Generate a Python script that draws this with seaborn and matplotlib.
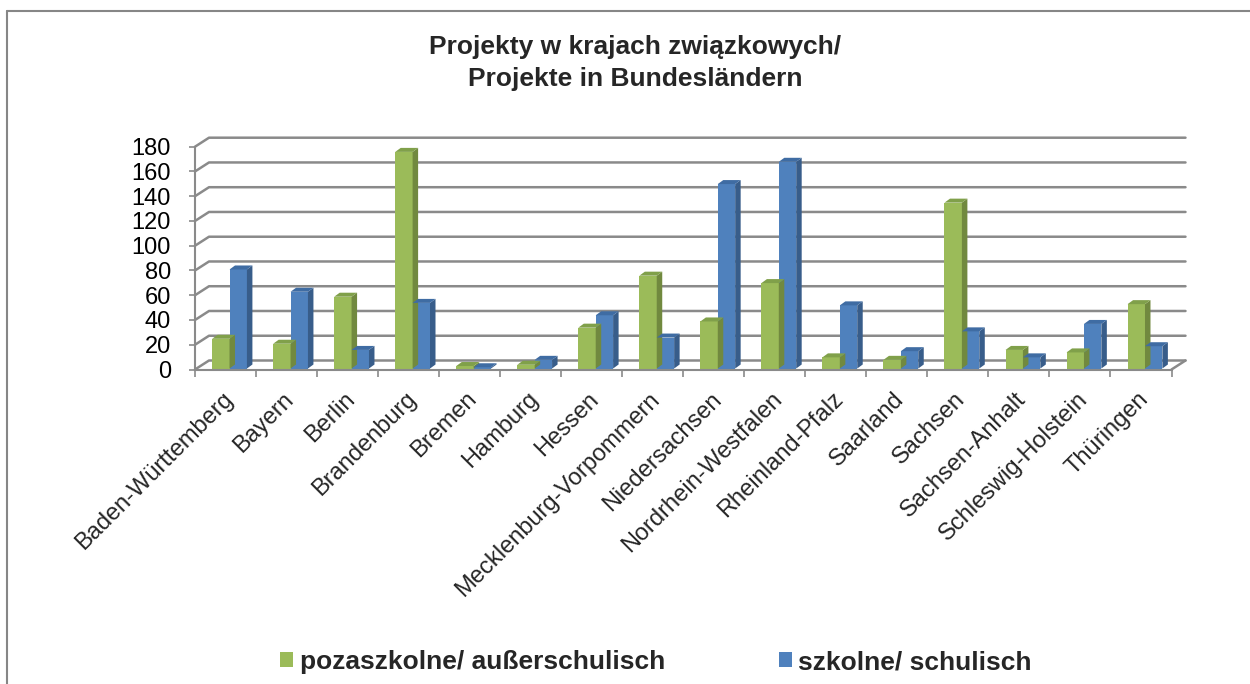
import numpy as np
import pandas as pd
import matplotlib
matplotlib.use("Agg")
import matplotlib.pyplot as plt
import seaborn as sns
from matplotlib.patches import Polygon, Patch
from matplotlib.lines import Line2D
from matplotlib.transforms import IdentityTransform, offset_copy, ScaledTranslation
from matplotlib.colors import to_hex

# ---------------- data ----------------
categories = ["Baden-Württemberg", "Bayern", "Berlin", "Brandenburg", "Bremen",
              "Hamburg", "Hessen", "Mecklenburg-Vorpommern", "Niedersachsen",
              "Nordrhein-Westfalen", "Rheinland-Pfalz", "Saarland", "Sachsen",
              "Sachsen-Anhalt", "Schleswig-Holstein", "Thüringen"]
pozaszkolne = [24, 20, 58, 175, 2, 3, 33, 75, 38, 69, 9, 7, 134, 15, 13, 52]
szkolne = [80, 62, 15, 53, 1, 7, 43, 25, 149, 167, 51, 14, 30, 9, 36, 18]
series = ["pozaszkolne/ außerschulisch", "szkolne/ schulisch"]
yticks = [0, 20, 40, 60, 80, 100, 120, 140, 160, 180]
title = "Projekty w krajach związkowych/\nProjekte in Bundesländern"

# ---------------- style ----------------
green, blue = "#9BBB59", "#4F81BD"
side_col = {to_hex(green): "#71893F", to_hex(blue): "#385D8A"}
top_col = {to_hex(green): "#80A04A", to_hex(blue): "#3F6CA3"}
grid_col = "#8A8A8A"

sns.set_style("white")
plt.rcParams["font.family"] = ["Liberation Sans", "DejaVu Sans"]

W, H = 1250, 684
fig = plt.figure(figsize=(W / 100, H / 100), dpi=100)
ax = fig.add_axes([195 / W, 1 - 369.5 / H, 976.5 / W, 222.8 / H])
ax.patch.set_alpha(0)

df = pd.DataFrame({
    "Land": categories * 2,
    "Liczba": pozaszkolne + szkolne,
    "Typ": [series[0]] * len(categories) + [series[1]] * len(categories),
})
sns.barplot(data=df, x="Land", y="Liczba", hue="Typ", palette=[green, blue],
            width=0.57, gap=0, saturation=1, errorbar=None, legend=False,
            linewidth=0, ax=ax)

ax.set_xlim(-0.5, len(categories) - 0.5)
ax.set_ylim(yticks[0], yticks[-1])

# depth of the pseudo-3D wall / bars (pixels)
DX, DY = 14, 9
bdx, bdy = 5.5, 4

# back-wall gridlines and left wall diagonals
x_lo, x_hi = -0.5, len(categories) - 0.5
for v in yticks:
    fl = ax.transData.transform((x_lo, v))
    fr = ax.transData.transform((x_hi, v))
    pts = np.array([fl, fl + [DX, DY], fr + [DX, DY]])
    ax.add_line(Line2D(pts[:, 0], pts[:, 1], transform=IdentityTransform(),
                       color=grid_col, lw=1.8, zorder=0.5, clip_on=False))
# right floor edge
fr0 = ax.transData.transform((x_hi, yticks[0]))
ax.add_line(Line2D([fr0[0], fr0[0] + DX], [fr0[1], fr0[1] + DY],
                   transform=IdentityTransform(), color=grid_col, lw=1.8,
                   zorder=0.5, clip_on=False))

# bars: shift slightly into depth and add side/top faces
bar_off = offset_copy(ax.transData, fig=fig, x=4, y=1, units="dots")
bars = [p for p in ax.patches]
for p in bars:
    p.set_transform(bar_off)
    p.set_zorder(2)
    x0, y0 = p.get_xy()
    w, h = p.get_width(), p.get_height()
    (X0, Y0), (X1, Y1) = bar_off.transform([(x0, y0), (x0 + w, y0 + h)])
    fc = to_hex(p.get_facecolor())
    side = Polygon([(X1, Y0), (X1, Y1), (X1 + bdx, Y1 + bdy), (X1 + bdx, Y0 + bdy)],
                   closed=True, transform=IdentityTransform(),
                   facecolor=side_col.get(fc, "#555555"), edgecolor="none",
                   zorder=2.1, clip_on=False)
    top = Polygon([(X0, Y1), (X1, Y1), (X1 + bdx, Y1 + bdy), (X0 + bdx, Y1 + bdy)],
                  closed=True, transform=IdentityTransform(),
                  facecolor=top_col.get(fc, "#777777"), edgecolor="none",
                  zorder=2.1, clip_on=False)
    ax.add_patch(side)
    ax.add_patch(top)

ax.set_xlim(-0.5, len(categories) - 0.5)
ax.set_ylim(yticks[0], yticks[-1])

# spines
for s in ["top", "right"]:
    ax.spines[s].set_visible(False)
for s in ["left", "bottom"]:
    ax.spines[s].set_visible(True)
    ax.spines[s].set_color(grid_col)
    ax.spines[s].set_linewidth(1.5)

# y axis
ax.set_yticks(yticks)
ax.set_yticklabels([str(v) for v in yticks], fontsize=17)
ax.tick_params(axis="y", left=True, length=4.3, width=1.2, color=grid_col,
               pad=13, labelcolor="black")

# x axis
ax.set_xticks(range(len(categories)))
ax.set_xticklabels(categories, rotation=45, ha="right", va="center",
                   rotation_mode="anchor", fontsize=17)
ax.set_xticks(np.arange(-0.5, len(categories), 1.0), minor=True)
ax.tick_params(axis="x", which="major", bottom=True, length=0, pad=19)
ax.tick_params(axis="x", which="minor", bottom=True, length=5, width=1.2,
               color=grid_col)
shift = ScaledTranslation(4 / 100, 0, fig.dpi_scale_trans)
for lbl in ax.get_xticklabels():
    lbl.set_transform(lbl.get_transform() + shift)
ax.set_xlabel("")
ax.set_ylabel("")

# title
fig.text(635 / W, 1 - 63 / H, title, ha="center", va="center",
         fontsize=19, fontweight="bold", linespacing=1.45)

# legend
handles = [Patch(facecolor=green, edgecolor="none"),
           Patch(facecolor=blue, edgecolor="none")]
fig.legend(handles, series, loc="center", bbox_to_anchor=(656 / W, 22 / H),
           ncol=2, frameon=False, prop={"weight": "bold", "size": 19},
           handlelength=0.5, handleheight=0.5, handletextpad=0.25,
           columnspacing=4.3)

# chart border
fig.add_artist(Line2D([7 / W, 7 / W], [0, 1 - 11 / H], transform=fig.transFigure,
                      color="#868686", lw=1.5))
fig.add_artist(Line2D([7 / W, 1], [1 - 11 / H, 1 - 11 / H], transform=fig.transFigure,
                      color="#868686", lw=1.5))

fig.savefig("out.png", dpi=100)
